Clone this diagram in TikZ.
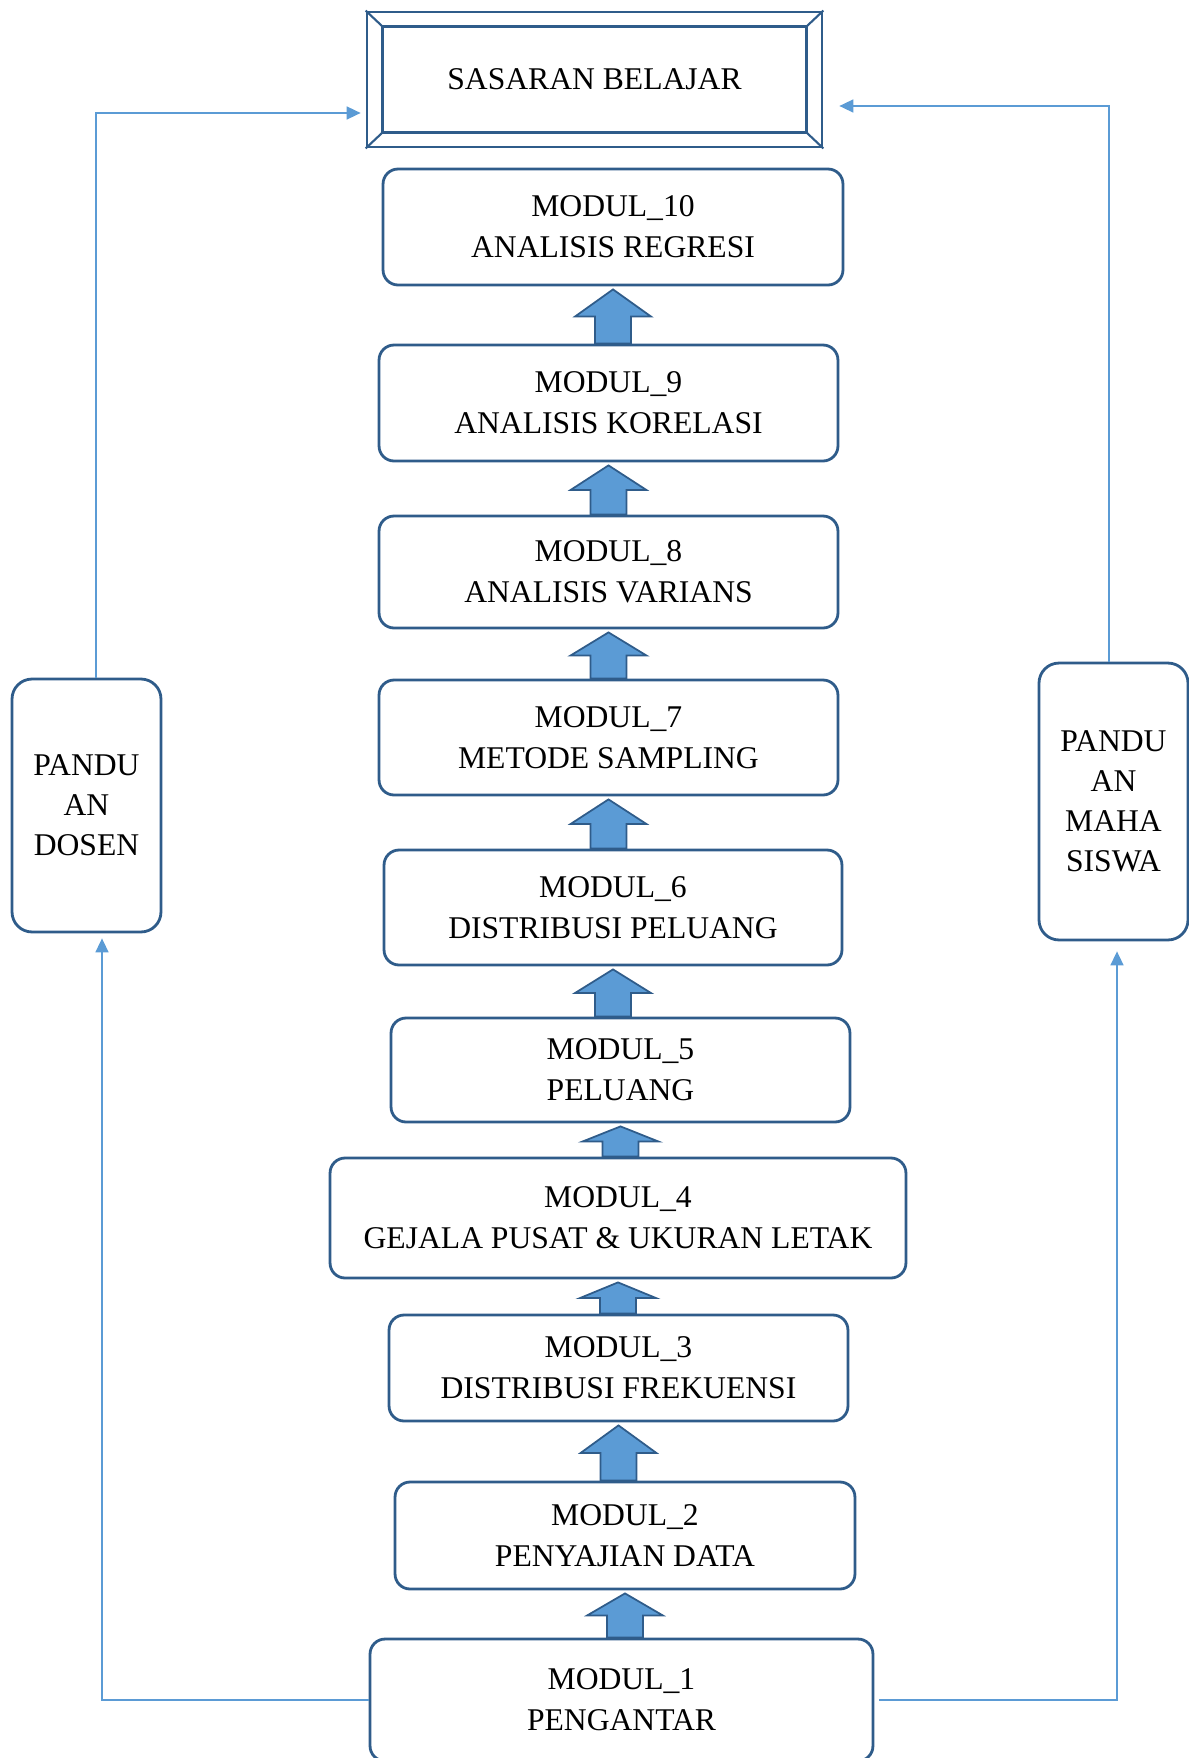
\documentclass[tikz,border=0pt]{standalone}
\usepackage{fontspec}
\setmainfont{Liberation Serif}
\usepackage{tikz}
\usetikzlibrary{calc,arrows.meta}

\definecolor{boxblue}{HTML}{2F5C8A}
\definecolor{lightblue}{HTML}{5B9BD5}

\tikzset{
  modul/.style={draw=boxblue,line width=1.6pt,rounded corners=0.3cm,align=center,
                font=\fontsize{18}{23.3}\selectfont,inner sep=0pt},
  pandu/.style={modul,rounded corners=0.4cm,minimum width=2.98cm},
  blockarr/.style={draw=boxblue,fill=lightblue,line width=1pt,line join=miter},
  link/.style={draw=lightblue,line width=0.9pt,-{Triangle[length=0.28cm,width=0.26cm]}}
}

\newcommand{\uparr}[2]{%
  \draw[blockarr] let \p1=([yshift=-0.06cm]#2.south), \p2=(#1.north) in
    (\x1,\y1) -- (\x1+21.6pt,{(\y1+\y2)/2}) -- (\x1+10.2pt,{(\y1+\y2)/2})
    -- (\x1+10.2pt,\y2) -- (\x1-10.2pt,\y2) -- (\x1-10.2pt,{(\y1+\y2)/2})
    -- (\x1-21.6pt,{(\y1+\y2)/2}) -- cycle;}

\begin{document}
\begin{tikzpicture}[x=0.02cm,y=-0.02cm]
\useasboundingbox (0,0) rectangle (1189,1758);

\node[draw=boxblue,line width=1.6pt,minimum width=9.1cm,minimum height=2.7cm,
      font=\fontsize{18}{23.3}\selectfont] (sas) at (594.5,79.5) {SASARAN BELAJAR};
\draw[boxblue,line width=1.6pt] ([shift={(17,16)}]sas.north west) rectangle ([shift={(-17,-16)}]sas.south east);
\draw[boxblue,line width=1.2pt] (sas.north west) -- ([shift={(17,16)}]sas.north west)
  (sas.north east) -- ([shift={(-17,16)}]sas.north east)
  (sas.south west) -- ([shift={(17,-16)}]sas.south west)
  (sas.south east) -- ([shift={(-17,-16)}]sas.south east);

\node[modul,minimum width=9.2cm,minimum height=2.32cm] (m10) at (613,227) {MODUL\_10\\ANALISIS REGRESI};
\node[modul,minimum width=9.18cm,minimum height=2.32cm] (m9) at (608.5,403) {MODUL\_9\\ANALISIS KORELASI};
\node[modul,minimum width=9.18cm,minimum height=2.24cm] (m8) at (608.5,572) {MODUL\_8\\ANALISIS VARIANS};
\node[modul,minimum width=9.18cm,minimum height=2.3cm] (m7) at (608.5,737.5) {MODUL\_7\\METODE SAMPLING};
\node[modul,minimum width=9.16cm,minimum height=2.3cm] (m6) at (613,907.5) {MODUL\_6\\DISTRIBUSI PELUANG};
\node[modul,minimum width=9.18cm,minimum height=2.08cm] (m5) at (620.5,1070) {MODUL\_5\\PELUANG};
\node[modul,minimum width=11.52cm,minimum height=2.4cm] (m4) at (618,1218) {MODUL\_4\\GEJALA PUSAT \& UKURAN LETAK};
\node[modul,minimum width=9.18cm,minimum height=2.12cm] (m3) at (618.5,1368) {MODUL\_3\\DISTRIBUSI FREKUENSI};
\node[modul,minimum width=9.2cm,minimum height=2.14cm] (m2) at (625,1535.5) {MODUL\_2\\PENYAJIAN DATA};
\node[modul,minimum width=10.06cm,minimum height=2.44cm] (m1) at (621.5,1700) {MODUL\_1\\PENGANTAR};

\node[pandu,minimum height=5.06cm,font=\fontsize{18}{22.8}\selectfont] (dosen) at (86.5,805.5) {PANDU\\AN\\DOSEN};
\node[pandu,minimum height=5.54cm,font=\fontsize{18}{22.8}\selectfont] (mhs) at (1113.5,801.5) {PANDU\\AN\\MAHA\\SISWA};

\foreach \a/\b in {m1/m2,m2/m3,m3/m4,m4/m5,m5/m6,m6/m7,m7/m8,m8/m9,m9/m10}
  \uparr{\a}{\b};

\draw[link,shorten >=0.1cm] (m1.west) -| ([xshift=0.31cm]dosen.south);
\draw[link,shorten >=0.1cm] ([xshift=0.19cm]dosen.north) |- ([yshift=-0.67cm]sas.west);
\draw[link,shorten <=0.1cm,shorten >=0.2cm] (m1.east) -| ([xshift=0.07cm]mhs.south);
\draw[link,shorten >=0.32cm] ([xshift=-0.09cm]mhs.north) |- ([yshift=-0.53cm]sas.east);
\end{tikzpicture}
\end{document}
